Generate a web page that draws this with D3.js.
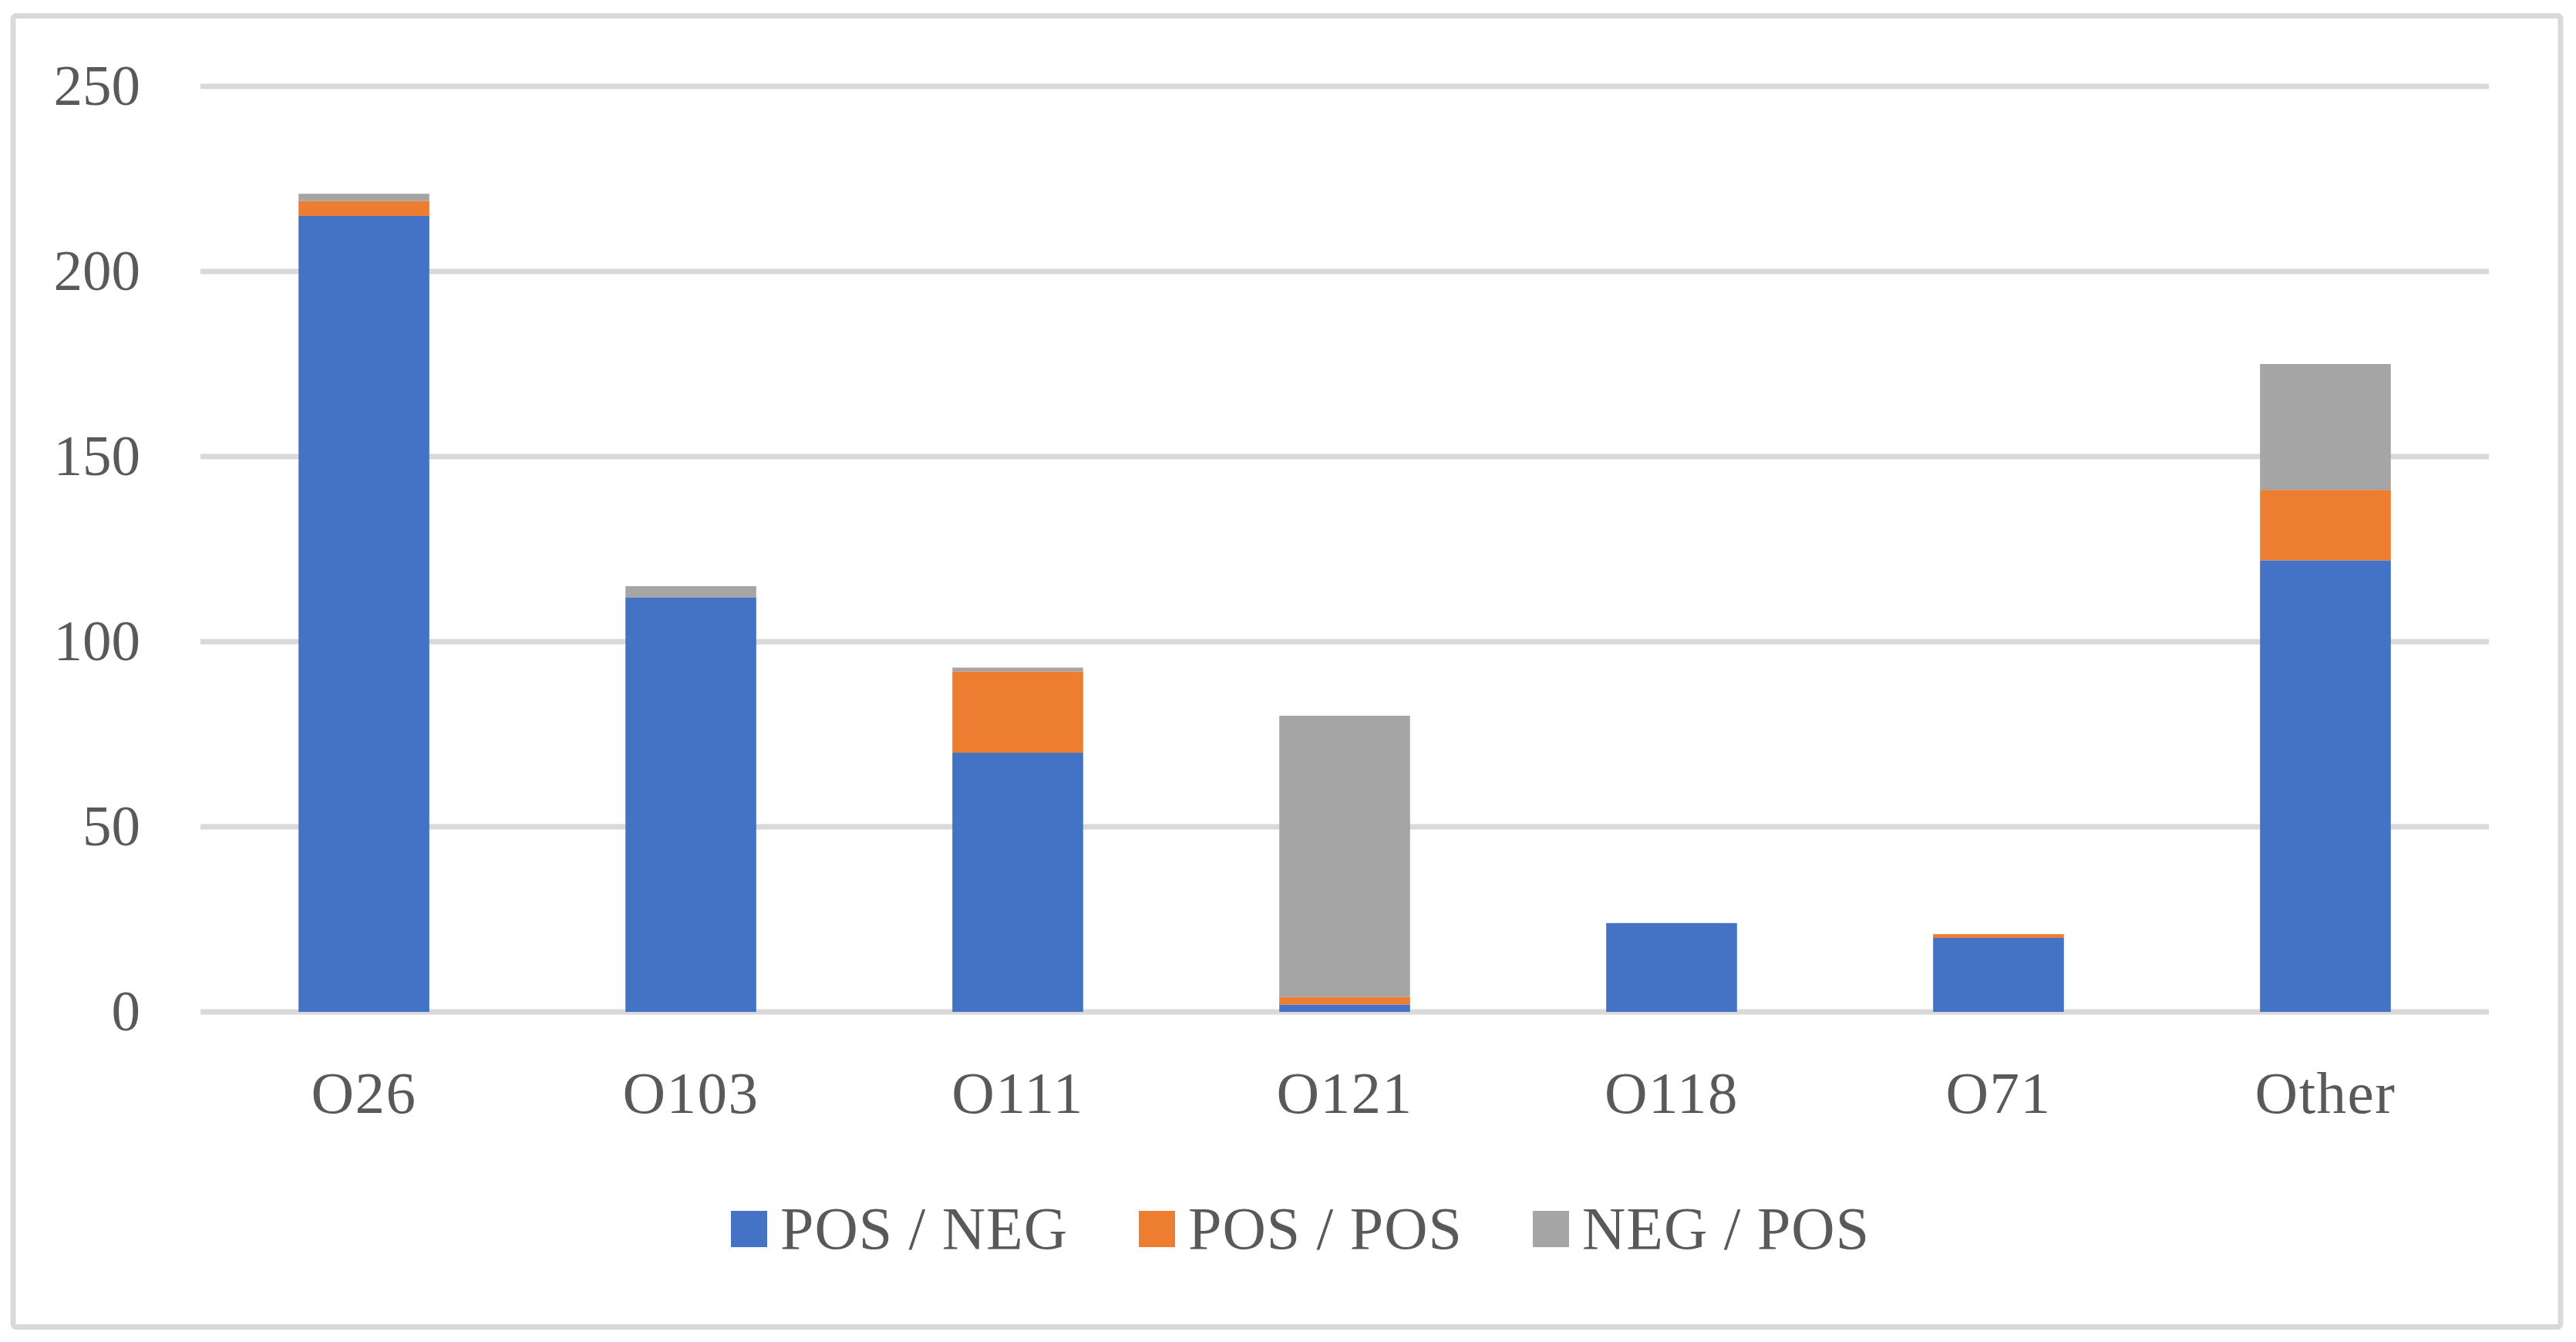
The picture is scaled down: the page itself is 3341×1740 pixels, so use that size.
<!DOCTYPE html>
<html>
<head>
<meta charset="utf-8">
<script src="https://cdn.jsdelivr.net/npm/d3@7"></script>
<style>
  html, body { margin: 0; padding: 0; background: #fff; }
  svg { display: block; }
  text { font-family: "Liberation Serif", "DejaVu Serif", serif; fill: #595959; }
</style>
</head>
<body>
<svg id="chart" width="3341" height="1740"></svg>
<script>
const categories = ["O26", "O103", "O111", "O121", "O118", "O71", "Other"];
const seriesNames = ["POS / NEG", "POS / POS", "NEG / POS"];
const posNeg = [215, 112, 70, 2, 24, 20, 122];
const posPos = [4, 0, 22, 2, 0, 1, 19];
const negPos = [2, 3, 1, 76, 0, 0, 34];
const colors = ["#4472C4", "#ED7D31", "#A5A5A5"];
const yTicks = [0, 50, 100, 150, 200, 250];

(function () {
const rows = categories.map((c, i) => ({
  cat: c, "POS / NEG": posNeg[i], "POS / POS": posPos[i], "NEG / POS": negPos[i]
}));

const svg = d3.select("#chart");

// outer border
svg.append("rect")
  .attr("x", 17).attr("y", 20.5).attr("width", 3304).attr("height", 1700)
  .attr("rx", 4)
  .attr("fill", "none").attr("stroke", "#d9d9d9").attr("stroke-width", 7);

const plotLeft = 260, plotRight = 3228, plotTop = 112, plotBottom = 1312;
const x = d3.scaleBand().domain(categories).range([plotLeft, plotRight])
  .paddingInner(0.6).paddingOuter(0.3);
const y = d3.scaleLinear().domain([0, 250]).range([plotBottom, plotTop]);

// gridlines
svg.append("g").selectAll("line").data(yTicks).join("line")
  .attr("x1", plotLeft).attr("x2", plotRight)
  .attr("y1", d => y(d)).attr("y2", d => y(d))
  .attr("stroke", "#d9d9d9").attr("stroke-width", 7);

// y labels
svg.append("g").selectAll("text").data(yTicks).join("text")
  .attr("x", 182).attr("y", d => y(d)).attr("dy", "0.32em")
  .attr("text-anchor", "end").attr("font-size", 75)
  .text(d => d);

// stacked bars
const stack = d3.stack().keys(seriesNames)(rows);
svg.append("g").selectAll("g").data(stack).join("g")
  .attr("fill", (d, i) => colors[i])
  .selectAll("rect").data(d => d).join("rect")
  .attr("x", d => x(d.data.cat))
  .attr("width", x.bandwidth())
  .attr("y", d => y(d[1]))
  .attr("height", d => y(d[0]) - y(d[1]));

// x labels
svg.append("g").selectAll("text").data(categories).join("text")
  .attr("x", d => x(d) + x.bandwidth() / 2).attr("y", 1443)
  .attr("text-anchor", "middle").attr("font-size", 77)
  .attr("letter-spacing", 1.5)
  .text(d => d);

// legend
const legendX = [948, 1477, 1988];
const lg = svg.append("g").selectAll("g").data(seriesNames).join("g")
  .attr("transform", (d, i) => `translate(${legendX[i]},0)`);
lg.append("rect").attr("x", 0).attr("y", 1570).attr("width", 47).attr("height", 47)
  .attr("fill", (d, i) => colors[i]);
lg.append("text").attr("x", 64).attr("y", 1619).attr("font-size", 78)
  .attr("letter-spacing", 1)
  .text(d => d);
})();
</script>
</body>
</html>
